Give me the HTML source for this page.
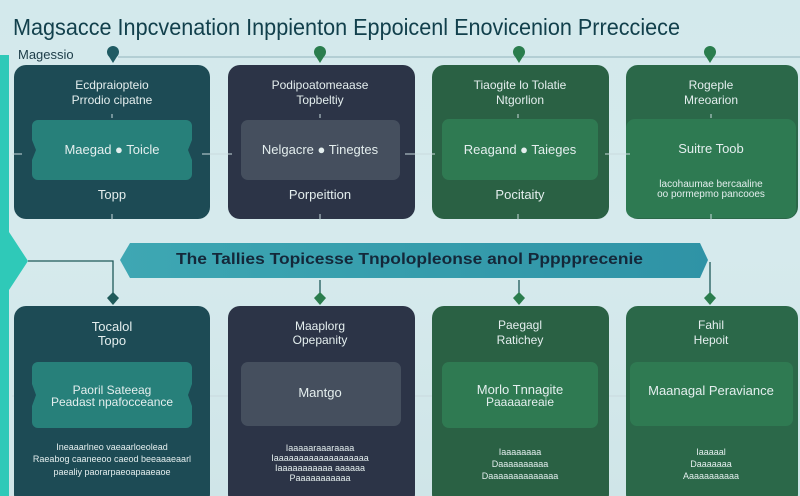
<!DOCTYPE html>
<html><head><meta charset="utf-8"><style>
html,body{margin:0;padding:0;width:800px;height:496px;overflow:hidden}
body{background:linear-gradient(180deg,#d3e9ec 0%,#d6eaed 50%,#cfe5e8 100%);font-family:"Liberation Sans",sans-serif}
</style></head><body>
<svg width="800" height="496" viewBox="0 0 800 496" xmlns="http://www.w3.org/2000/svg" font-family="Liberation Sans, sans-serif">
<defs>
<linearGradient id="ban" x1="0" x2="1"><stop offset="0" stop-color="#3ea7b3"/><stop offset="1" stop-color="#2f93a6"/></linearGradient>
</defs>
<!-- title -->
<text x="13" y="35" font-size="23" fill="#12404c" textLength="667" lengthAdjust="spacingAndGlyphs">Magsacce Inpcvenation Inppienton Eppoicenl Enovicenion Prrecciece</text>
<text x="18" y="59" font-size="13" fill="#1c3c48">Magessio</text>
<line x1="118" y1="57" x2="800" y2="57" stroke="#9fbfc5" stroke-width="1.2"/>
<!-- left bar -->
<rect x="0" y="55" width="9" height="441" fill="#2fc9b8"/>
<polygon points="0,232 9,232 28,261 9,290 0,290" fill="#2fc9b8"/>
<!-- pins -->
<g>
<circle cx="113" cy="52" r="6" fill="#1f5b63"/><polygon points="108,55 118,55 113,63" fill="#1f5b63"/>
<circle cx="320" cy="52" r="6" fill="#2a7d4d"/><polygon points="315,55 325,55 320,63" fill="#2a7d4d"/>
<circle cx="519" cy="52" r="6" fill="#2a7d4d"/><polygon points="514,55 524,55 519,63" fill="#2a7d4d"/>
<circle cx="710" cy="52" r="6" fill="#2a7d4d"/><polygon points="705,55 715,55 710,63" fill="#2a7d4d"/>
</g>
<!-- top cards -->
<rect x="14" y="65" width="196" height="154" rx="12" fill="#1d4b55"/>
<rect x="228" y="65" width="187" height="154" rx="12" fill="#2c3447"/>
<rect x="432" y="65" width="177" height="154" rx="12" fill="#2a6144"/>
<rect x="626" y="65" width="172" height="154" rx="12" fill="#2b6849"/>
<!-- top inner -->
<path d="M38,120 H186 a6,6 0 0 1 6,6 V140 l-4,10 l4,10 V174 a6,6 0 0 1 -6,6 H38 a6,6 0 0 1 -6,-6 V160 l4,-10 l-4,-10 V126 a6,6 0 0 1 6,-6Z" fill="#27807a"/>
<rect x="241" y="120" width="159" height="60" rx="7" fill="#454f5e"/>
<rect x="442" y="119" width="156" height="61" rx="7" fill="#2f7a52"/>
<rect x="626" y="119" width="170" height="99" rx="9" fill="#2e7a52"/>
<g stroke="#c9dadd" stroke-width="1">
<line x1="112" y1="114" x2="112" y2="118"/><line x1="320" y1="114" x2="320" y2="118"/><line x1="518" y1="114" x2="518" y2="118"/><line x1="711" y1="114" x2="711" y2="118"/>
<line x1="112" y1="214" x2="112" y2="220"/><line x1="320" y1="214" x2="320" y2="220"/><line x1="518" y1="214" x2="518" y2="220"/><line x1="711" y1="214" x2="711" y2="220"/>
</g>
<g fill="#e4eeee" font-size="12" text-anchor="middle">
<text x="112" y="89">Ecdpraiopteio</text><text x="112" y="104">Prrodio cipatne</text>
<text x="112" y="154" font-size="13">Maegad ● Toicle</text>
<text x="112" y="199" font-size="13">Topp</text>
<text x="320" y="89">Podipoatomeaase</text><text x="320" y="104">Topbeltiy</text>
<text x="320" y="154" font-size="13">Nelgacre ● Tinegtes</text>
<text x="320" y="199" font-size="13">Porpeittion</text>
<text x="520" y="89">Tiaogite lo Tolatie</text><text x="520" y="104">Ntgorlion</text>
<text x="520" y="154" font-size="13">Reagand ● Taieges</text>
<text x="520" y="199" font-size="13">Pocitaity</text>
<text x="711" y="89">Rogeple</text><text x="711" y="104">Mreoarion</text>
<text x="711" y="153" font-size="13">Suitre Toob</text>
<text x="711" y="187" font-size="10">lacohaumae bercaaline</text><text x="711" y="197" font-size="10">oo pormepmo pancooes</text>
</g>
<!-- small connectors -->
<g stroke="#c9dadd" stroke-width="1">
<line x1="12" y1="154" x2="22" y2="154"/><line x1="202" y1="154" x2="232" y2="154"/>
<line x1="405" y1="154" x2="435" y2="154"/><line x1="605" y1="154" x2="630" y2="154"/>
<line x1="12" y1="396" x2="22" y2="396"/><line x1="202" y1="396" x2="232" y2="396"/>
<line x1="405" y1="396" x2="435" y2="396"/><line x1="605" y1="396" x2="630" y2="396"/>
</g>
<!-- banner -->
<polygon points="130,243 700,243 708,260 700,278 130,278 120,260" fill="url(#ban)"/>
<text x="176" y="264" font-size="16" font-weight="bold" fill="#14283a" textLength="467" lengthAdjust="spacingAndGlyphs">The Tallies Topicesse Tnpolopleonse anol Ppppprecenie</text>
<!-- arrows -->
<g stroke="#1f5a5a" stroke-width="1.3" fill="none">
<polyline points="28,261 113,261 113,300"/>
<line x1="320" y1="280" x2="320" y2="300"/>
<line x1="519" y1="280" x2="519" y2="300"/>
<line x1="710" y1="262" x2="710" y2="300"/>
</g>
<polygon points="107,298 113,292 119,298 113,305" fill="#1f5a5a"/>
<polygon points="314,298 320,292 326,298 320,305" fill="#2a7d4d"/>
<polygon points="513,298 519,292 525,298 519,305" fill="#2a7d4d"/>
<polygon points="704,298 710,292 716,298 710,305" fill="#2a7d4d"/>
<!-- bottom cards -->
<rect x="14" y="306" width="196" height="200" rx="12" fill="#1d4b55"/>
<rect x="228" y="306" width="187" height="200" rx="12" fill="#2c3447"/>
<rect x="432" y="306" width="177" height="200" rx="12" fill="#2a6144"/>
<rect x="626" y="306" width="172" height="200" rx="12" fill="#2b6849"/>
<path d="M38,362 H186 a6,6 0 0 1 6,6 V384 l-4,11 l4,11 V422 a6,6 0 0 1 -6,6 H38 a6,6 0 0 1 -6,-6 V406 l4,-11 l-4,-11 V368 a6,6 0 0 1 6,-6Z" fill="#27807a"/>
<rect x="241" y="362" width="160" height="64" rx="7" fill="#454f5e"/>
<rect x="442" y="362" width="156" height="66" rx="7" fill="#2f7a52"/>
<rect x="630" y="362" width="163" height="64" rx="7" fill="#2f7a52"/>
<g fill="#e4eeee" font-size="12" text-anchor="middle">
<text x="112" y="331" font-size="13">Tocalol</text><text x="112" y="345" font-size="13">Topo</text>
<text x="112" y="394">Paoril Sateeag</text><text x="112" y="406">Peadast npafocceance</text>
<text x="112" y="450" font-size="9">Ineaaarlneo vaeaarloeolead</text><text x="112" y="462" font-size="9">Raeabog caaneeoo caeod beeaaaeaarl</text><text x="112" y="475" font-size="9">paealiy paorarpaeoapaaeaoe</text>
<text x="320" y="330">Maaplorg</text><text x="320" y="344">Opepanity</text>
<text x="320" y="397" font-size="13">Mantgo</text>
<text x="320" y="451" font-size="9">Iaaaaaraaaraaaa</text><text x="320" y="461" font-size="9">Iaaaaaaaaaaaaaaaaaaa</text><text x="320" y="471" font-size="9">Iaaaaaaaaaaa aaaaaa</text><text x="320" y="481" font-size="9">Paaaaaaaaaaa</text>
<text x="520" y="329">Paegagl</text><text x="520" y="344">Ratichey</text>
<text x="520" y="394" font-size="13">Morlo Tnnagite</text><text x="520" y="406">Paaaaareaie</text>
<text x="520" y="455" font-size="9">Iaaaaaaaa</text><text x="520" y="467" font-size="9">Daaaaaaaaaa</text><text x="520" y="479" font-size="9">Daaaaaaaaaaaaaa</text>
<text x="711" y="329">Fahil</text><text x="711" y="344">Hepoit</text>
<text x="711" y="395" font-size="13">Maanagal Peraviance</text>
<text x="711" y="455" font-size="9">Iaaaaal</text><text x="711" y="467" font-size="9">Daaaaaaa</text><text x="711" y="479" font-size="9">Aaaaaaaaaaa</text>
</g>
</svg>
</body></html>
